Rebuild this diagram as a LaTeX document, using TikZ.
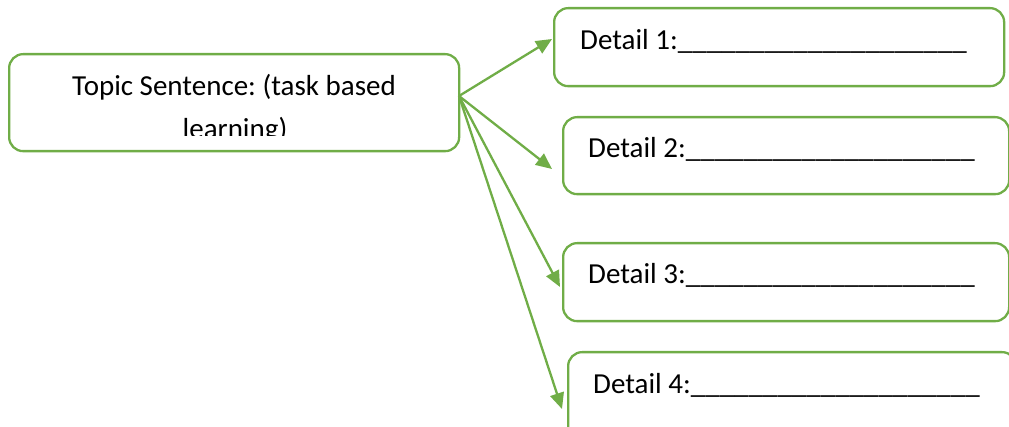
\documentclass[tikz,border=0pt]{standalone}
\usepackage{fontspec}
\setmainfont{Carlito}
\usetikzlibrary{arrows.meta}
\definecolor{ogreen}{HTML}{70AD47}
\newcommand{\blanks}{\_\_\_\_\_\_\_\_\_\_\_\_\_\_\_\_\_\_\_\_}
\frenchspacing
\begin{document}
\begin{tikzpicture}[x=1pt,y=-1pt,
  box/.style={draw=ogreen, line width=2.3pt, rounded corners=14pt, inner sep=0pt, anchor=north west},
  lbl/.style={font=\fontsize{29}{35}\selectfont, inner sep=0pt, anchor=base west, text=black},
  conn/.style={draw=ogreen, line width=2.3pt, -{Triangle[length=16pt,width=14pt]}}]
\useasboundingbox (0,0) rectangle (1009,427);
\clip (0,0) rectangle (1009,427);
% boxes
\node[box, minimum width=450pt, minimum height=97pt] (topic) at (8,53) {};
\node[box, minimum width=450pt, minimum height=78pt] (d1) at (553,7) {};
\node[box, minimum width=446pt, minimum height=77pt] (d2) at (562,116) {};
\node[box, minimum width=446pt, minimum height=78pt] (d3) at (562,242) {};
\node[box, minimum width=448pt, minimum height=100pt] (d4) at (567,351) {};
% topic text, second line cut off by the box
\begin{scope}
  \clip (8,53) rectangle (458,136);
  \node[lbl, anchor=base] (tt1) at (234,96) {Topic Sentence: (task based};
  \node[lbl, anchor=base] (tt2) at (235,138.5) {learning)};
\end{scope}
% detail texts
\node[lbl] (l1) at (580,50) {Detail 1:\blanks};
\node[lbl] (l2) at (588,158) {Detail 2:\blanks};
\node[lbl] (l3) at (588,284) {Detail 3:\blanks};
\node[lbl] (l4) at (593,393) {Detail 4:\blanks};
% connectors
\coordinate (src) at (459,96);
\coordinate (t1) at (552,39);
\coordinate (t2) at (552,169);
\coordinate (t3) at (560,287);
\coordinate (t4) at (562,409);
\draw[conn] (src) -- (t1);
\draw[conn] (src) -- (t2);
\draw[conn] (src) -- (t3);
\draw[conn] (src) -- (t4);
\end{tikzpicture}
\end{document}
